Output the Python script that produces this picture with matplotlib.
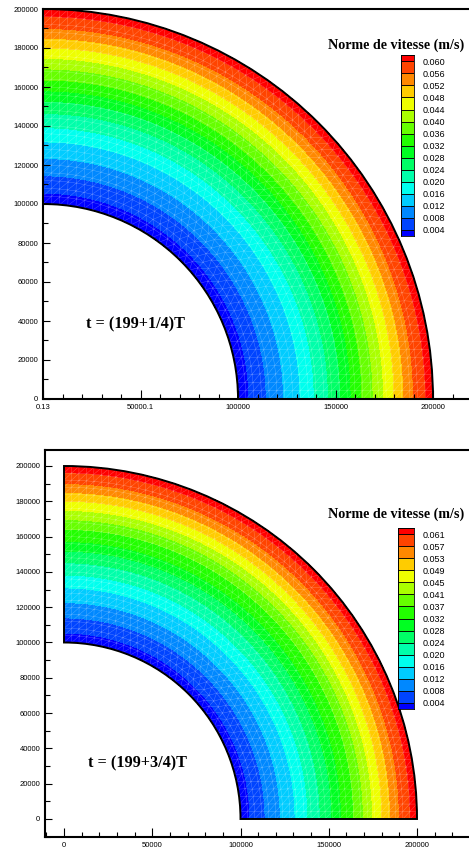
import numpy as np
import matplotlib
matplotlib.use("Agg")
import matplotlib.pyplot as plt
import matplotlib.tri as mtri
from matplotlib.colors import LinearSegmentedColormap
from matplotlib.patches import Wedge
from matplotlib.ticker import FixedLocator, FixedFormatter, MultipleLocator

plt.rcParams["font.family"] = ["Liberation Sans", "DejaVu Sans"]

# radial profile of the velocity norm (m/s)
radius = [100000, 110000, 120000, 130000, 140000, 150000,
          160000, 170000, 180000, 190000, 200000]
speed_q1 = [0.0015, 0.0060, 0.0105, 0.0150, 0.0205, 0.0260,
            0.0335, 0.0405, 0.0480, 0.0560, 0.0625]
speed_q3 = [0.0015, 0.0062, 0.0108, 0.0155, 0.0210, 0.0268,
            0.0340, 0.0413, 0.0490, 0.0570, 0.0635]

# contour levels shown in the legends
levels_q1 = [0.004, 0.008, 0.012, 0.016, 0.020, 0.024, 0.028, 0.032,
             0.036, 0.040, 0.044, 0.048, 0.052, 0.056, 0.060]
labels_q1 = ["0.004", "0.008", "0.012", "0.016", "0.020", "0.024", "0.028",
             "0.032", "0.036", "0.040", "0.044", "0.048", "0.052", "0.056",
             "0.060"]
levels_q3 = [0.004, 0.008, 0.012, 0.016, 0.020, 0.024, 0.028, 0.032,
             0.037, 0.041, 0.045, 0.049, 0.053, 0.057, 0.061]
labels_q3 = ["0.004", "0.008", "0.012", "0.016", "0.020", "0.024", "0.028",
             "0.032", "0.037", "0.041", "0.045", "0.049", "0.053", "0.057",
             "0.061"]

# axis ticks
xtick_pos = [0, 50000, 100000, 150000, 200000]
xtick_labels_q1 = ["0.13", "50000.1", "100000", "150000", "200000"]
xtick_labels_q3 = ["0", "50000", "100000", "150000", "200000"]
ytick_pos = [0, 20000, 40000, 60000, 80000, 100000, 120000,
             140000, 160000, 180000, 200000]
ytick_labels = [str(v) for v in ytick_pos]

r_in, r_out = 100000, 200000
title = "Norme de vitesse (m/s)"

# tecplot style "small rainbow"
rainbow = LinearSegmentedColormap.from_list(
    "small_rainbow", ["#0000ff", "#00ffff", "#00ff00", "#ffff00", "#ff0000"])
band_colors = rainbow(np.linspace(0, 1, 16))

W, H = 469, 848
fig = plt.figure(figsize=(W / 100, H / 100), dpi=100)


def px_rect(left, top, right, bottom):
    return [left / W, 1 - bottom / H, (right - left) / W, (bottom - top) / H]


# mesh for the white triangle lines
mx, my = [], []
for r in np.linspace(r_in, r_out, 26):
    n = int(r * np.pi / 2 / 4200) + 1
    th = np.linspace(0, np.pi / 2, n)
    mx.extend(r * np.cos(th))
    my.extend(r * np.sin(th))
mx, my = np.array(mx), np.array(my)
mesh = mtri.Triangulation(mx, my)
cx = mx[mesh.triangles].mean(axis=1)
cy = my[mesh.triangles].mean(axis=1)
mesh.set_mask(np.hypot(cx, cy) < r_in * 0.99)

theta = np.linspace(0, np.pi / 2, 181)
R, T = np.meshgrid(radius, theta)
X = R * np.cos(T)
Y = R * np.sin(T)


def draw_panel(rect, xlim, ylim, speed, levels, xlabels, tlabel, tpos):
    ax = fig.add_axes(rect)
    V = np.tile(speed, (len(theta), 1))
    ax.contourf(X, Y, V, levels=[-1] + levels + [1], colors=band_colors)
    ax.triplot(mesh, color="white", lw=0.3, alpha=0.35)
    ax.add_patch(Wedge((0, 0), r_out, 0, 90, width=r_out - r_in,
                       fill=False, ec="black", lw=1.4, zorder=3))
    ax.set_xlim(*xlim)
    ax.set_ylim(*ylim)
    ax.set_aspect("auto")
    for s in ["left", "bottom", "top"]:
        ax.spines[s].set_linewidth(1.5)
    ax.spines["right"].set_visible(False)
    ax.xaxis.set_major_locator(FixedLocator(xtick_pos))
    ax.xaxis.set_major_formatter(FixedFormatter(xlabels))
    ax.xaxis.set_minor_locator(MultipleLocator(10000))
    ax.yaxis.set_major_locator(FixedLocator(ytick_pos))
    ax.yaxis.set_major_formatter(FixedFormatter(ytick_labels))
    ax.yaxis.set_minor_locator(MultipleLocator(10000))
    ax.tick_params(which="both", direction="in", width=0.8, labelsize=5.5,
                   top=False, right=False, pad=3.5, zorder=4)
    ax.tick_params(axis="x", which="major", length=6.5)
    ax.tick_params(axis="y", which="major", length=5)
    ax.tick_params(which="minor", length=3.6)
    ax.text(tpos[0], tpos[1], tlabel, family="Liberation Serif",
            weight="bold", fontsize=11.7, ha="left", va="center")
    return ax


def draw_legend(rect, labels, title_y):
    lax = fig.add_axes(rect)
    n = len(labels)
    bottoms = [-0.5] + list(range(0, n - 1)) + [n - 1]
    heights = [0.5] + [1] * (n - 1) + [0.5]
    lax.bar(0.5, heights, bottom=bottoms, width=1, color=band_colors,
            edgecolor="black", linewidth=0.6)
    lax.set_xlim(0, 1)
    lax.set_ylim(-0.5, n - 0.5)
    lax.set_xticks([])
    lax.yaxis.tick_right()
    lax.set_yticks(range(n))
    lax.set_yticklabels(labels)
    lax.tick_params(axis="y", length=0, labelsize=6.5, pad=6)
    for s in lax.spines.values():
        s.set_linewidth(0.6)
    fig.text(396 / W, 1 - title_y / H, title, family="Liberation Serif",
             weight="bold", fontsize=10.2, ha="center", va="center")


# t = (199+1/4)T
draw_panel(px_rect(43, 9, 469, 399), (0, 218460), (0, 200000),
           speed_q1, levels_q1, xtick_labels_q1, "t = (199+1/4)T",
           (22050, 38460))
draw_legend(px_rect(401, 55.3, 414, 236), labels_q1, 45)

# t = (199+3/4)T
draw_panel(px_rect(45, 450, 469, 837), (-10765, 229460), (-10200, 209065),
           speed_q3, levels_q3, xtick_labels_q3, "t = (199+3/4)T",
           (13600, 31730))
draw_legend(px_rect(398, 528, 414, 709), labels_q3, 514)

fig.savefig("out.png", dpi=100)
